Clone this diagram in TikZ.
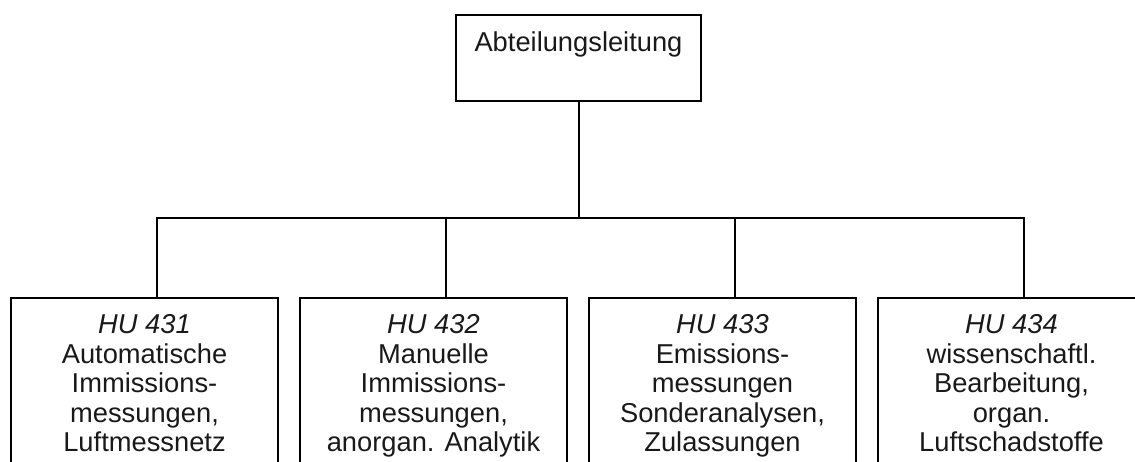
\documentclass[tikz,border=0pt]{standalone}
\usepackage{fontspec}
\setmainfont{Liberation Sans}
\usetikzlibrary{positioning}
\begin{document}
\begin{tikzpicture}[x=1pt,y=-1pt,line width=2pt,
    unit/.style={draw,rectangle,minimum width=267pt,minimum height=200pt,anchor=north,inner sep=0pt},
    unittext/.style={anchor=north,align=center,inner sep=0pt,text=black!90,font=\fontsize{27.3}{29.6}\selectfont}]
    % Rahmen
    \useasboundingbox (0,0) rectangle (1135,461);
    \clip (0,0) rectangle (1135,461);

    % Abteilungsleitung
    \node[draw,minimum width=245pt,minimum height=86pt,anchor=north,inner sep=0pt] (lead) at (578.5,14) {};
    \node[unittext,below=16.5pt of lead.north] (leadtext) {Abteilungsleitung};

    % Hauptabteilungen
    \node[unit] (hu1) at (144.5,297) {};
    \node[unit] (hu2) at (433.5,297) {};
    \node[unit] (hu3) at (722.5,297) {};
    \node[unit] (hu4) at (1011.5,297) {};

    % Texte
    \node[unittext,below=16.5pt of hu1.north] (hu1text) {\textit{HU 431}\\Automatische\\Immissions-\\messungen,\\Luftmessnetz};
    \node[unittext,below=16.5pt of hu2.north] (hu2text) {\textit{HU 432}\\Manuelle\\Immissions-\\messungen,\\anorgan. Analytik};
    \node[unittext,below=16.5pt of hu3.north] (hu3text) {\textit{HU 433}\\Emissions-\\messungen\\Sonderanalysen,\\Zulassungen};
    \node[unittext,below=16.5pt of hu4.north] (hu4text) {\textit{HU 434}\\wissenschaftl.\\Bearbeitung,\\organ.\\Luftschadstoffe};

    % Verbindungen
    \coordinate[below=116pt of lead.south] (fork);
    \draw (lead.south) -- (fork);
    \draw ([xshift=12.5pt]hu1.north) |- (fork) -| ([xshift=12.5pt]hu4.north);
    \draw ([xshift=12.5pt]hu2.north) -- ([xshift=12.5pt]hu2.north |- fork);
    \draw ([xshift=12.5pt]hu3.north) -- ([xshift=12.5pt]hu3.north |- fork);
\end{tikzpicture}
\end{document}
